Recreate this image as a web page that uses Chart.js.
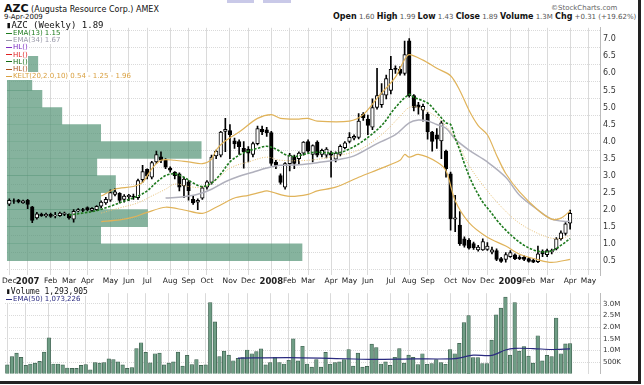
<!DOCTYPE html>
<html>
<head>
<meta charset="utf-8">
<script src="https://cdn.jsdelivr.net/npm/chart.js@4/dist/chart.umd.min.js"></script>
<style>
  body { margin:0; background:#fff; font-family:"DejaVu Sans", Verdana, sans-serif; }
  #wrap { position:relative; width:638px; height:381px; overflow:hidden; background:#fff;
          border-right:3px solid #222; border-bottom:3px solid #222; }
  .tab { position:absolute; top:0; height:3px; background:#c9c9e8; }
  #title { position:absolute; left:4px; top:2px; font-size:8px; color:#111; white-space:nowrap; }
  #title b { font-size:11px; }
  #date { position:absolute; left:4px; top:13px; font-size:7px; color:#111; }
  #brand { position:absolute; left:551px; top:4px; font-size:7px; color:#666; }
  #quote { position:absolute; left:333px; top:12px; font-size:7px; color:#555; white-space:nowrap; }
  #quote b { font-size:8px; color:#111; }
  #quote .up { color:#2a9a2a; font-size:6px; }
  .cv { position:absolute; left:0; }
  .leg { position:absolute; left:6px; font-size:7px; white-space:nowrap; line-height:7.2px; }
  .leg div span { background:#fff; }
  .leg .main { font-family:"DejaVu Sans Mono", monospace; font-size:9px; line-height:9px; color:#111; }
  .ln { display:inline-block; width:6px; height:0; border-top:1.5px solid; vertical-align:middle; margin-right:1px; }
</style>
</head>
<body>
<div id="wrap">
  <div class="tab" style="left:227px;width:27px"></div>
  <div class="tab" style="left:263px;width:28px"></div>
  <div id="title"><b>AZC</b> (Augusta Resource Corp.) AMEX</div>
  <div id="date">9-Apr-2009</div>
  <div id="brand">©StockCharts.com</div>
  <div id="quote"><b>Open</b> 1.60 <b>High</b> 1.99 <b>Low</b> 1.43 <b>Close</b> 1.89 <b>Volume</b> 1.3M <b>Chg</b> +0.31 (+19.62%) <span class="up">▲</span></div>

  <div class="cv" style="top:20px"><canvas id="price" width="632" height="268"></canvas></div>
  <div class="cv" style="top:286px"><canvas id="vol" width="632" height="95"></canvas></div>

  <div class="leg" style="top:21px">
    <div class="main"><span>▮AZC (Weekly) 1.89</span></div>
    <div style="color:#1d7a1d"><span><i class="ln" style="border-top-style:dashed"></i>EMA(13) 1.15</span></div>
    <div style="color:#9a9aaa"><span><i class="ln"></i>EMA(34) 1.67</span></div>
    <div style="color:#7a2ac0"><span><i class="ln"></i>HL()</span></div>
    <div style="color:#e02020"><span><i class="ln"></i>HL()</span></div>
    <div style="color:#106a10"><span><i class="ln"></i>HL()</span></div>
    <div style="color:#a8501a"><span><i class="ln"></i>HL()</span></div>
    <div style="color:#d9a040"><span><i class="ln"></i>KELT(20,2.0,10) 0.54 - 1.25 - 1.96</span></div>
  </div>
  <div class="leg" style="top:288px">
    <div class="main" style="font-size:8px;line-height:8px"><span>▮Volume 1,293,905</span></div>
    <div style="color:#2b2b80"><span><i class="ln"></i>EMA(50) 1,073,226</span></div>
  </div>
</div>

<script>
// weeks on the axis: Dec 4 2006 onward, axis runs a few weeks past the last bar
const firstWeek = Date.UTC(2006, 11, 4);
const weekCount = 129;
const monthNames = ['Jan','Feb','Mar','Apr','May','Jun','Jul','Aug','Sep','Oct','Nov','Dec'];

// weekly candles (123 weeks, last one = week of Apr 6 2009)
const opens = [2.16,2.26,2.28,2.20,2.27,2.08,1.76,1.87,1.82,1.86,1.82,1.82,1.86,1.86,1.72,1.96,2.00,2.06,1.98,2.00,
  2.10,2.20,2.28,2.45,2.48,2.30,2.38,2.40,2.35,2.88,3.18,2.95,3.40,3.55,3.45,3.22,3.10,3.05,2.70,2.82,
  2.30,2.22,2.34,2.66,2.80,3.58,3.60,4.30,4.32,4.02,4.00,3.80,3.78,3.62,3.94,4.36,4.34,4.26,3.40,3.00,
  2.66,3.35,3.55,3.50,3.66,4.00,3.62,3.98,3.62,3.60,3.66,3.48,3.62,3.82,4.00,4.10,4.12,4.80,4.66,4.42,
  5.00,5.08,5.36,5.50,6.15,6.12,6.00,6.96,5.35,5.08,4.92,4.80,4.28,4.20,4.02,3.72,3.05,1.72,1.55,1.14,
  1.10,1.00,0.82,0.82,0.83,0.75,0.80,0.56,0.54,0.62,0.67,0.60,0.61,0.56,0.52,0.47,0.78,0.68,0.76,0.85,
  1.15,1.30,1.60];
const highs = [2.32,2.32,2.30,2.28,2.30,2.10,1.92,1.90,1.90,1.90,1.92,1.93,1.93,1.88,2.00,2.03,2.04,2.08,2.06,2.12,
  2.26,2.36,2.58,2.62,2.50,2.44,2.45,2.46,2.90,3.30,3.20,3.42,3.72,3.70,3.50,3.26,3.12,3.08,2.95,2.85,
  2.40,2.32,2.68,2.85,3.60,3.75,4.30,4.68,4.50,4.10,4.05,4.00,3.85,3.98,4.45,4.45,4.42,4.30,3.45,3.05,
  3.38,3.65,3.60,3.70,4.00,4.05,3.90,4.02,3.78,3.82,3.72,3.70,3.90,4.00,4.26,4.20,4.82,4.85,4.78,5.25,
  6.15,5.70,5.95,6.50,6.22,6.20,6.95,7.02,5.38,5.15,5.10,4.85,4.30,4.38,4.60,3.75,3.10,2.42,1.94,1.20,
  1.15,1.05,0.95,1.14,1.03,0.90,0.85,0.60,0.74,0.80,0.70,0.65,0.64,0.60,0.55,0.93,0.82,0.84,0.84,1.18,
  1.38,1.62,1.99];
const lows = [2.12,2.18,2.20,2.18,2.03,1.62,1.72,1.80,1.78,1.77,1.76,1.80,1.82,1.72,1.63,1.93,1.94,1.96,1.95,1.98,
  2.05,2.15,2.24,2.40,2.20,2.22,2.26,2.30,2.30,2.80,2.90,2.90,3.35,3.38,3.20,3.10,2.90,2.55,2.35,2.28,
  2.15,2.00,2.30,2.60,2.75,3.50,3.55,3.70,3.50,3.80,3.62,3.22,3.40,3.55,3.90,4.20,4.15,3.30,3.20,2.75,
  2.60,3.14,3.20,3.32,3.60,3.68,3.40,3.55,3.55,3.52,2.95,3.40,3.58,3.78,3.96,4.05,4.08,4.62,4.20,4.35,
  4.95,5.00,5.25,5.40,6.00,5.95,5.95,5.30,4.90,4.80,4.60,4.07,3.72,3.80,3.50,2.95,1.40,1.35,0.95,0.90,
  0.84,0.83,0.78,0.80,0.80,0.70,0.50,0.45,0.46,0.60,0.53,0.53,0.50,0.46,0.44,0.44,0.62,0.62,0.70,0.82,
  1.10,1.25,1.43];
const closes = [2.27,2.25,2.23,2.26,2.15,1.68,1.88,1.82,1.86,1.80,1.84,1.90,1.90,1.76,1.95,2.00,1.98,1.99,2.04,2.10,
  2.22,2.30,2.50,2.52,2.27,2.40,2.42,2.38,2.85,3.12,2.98,3.38,3.62,3.45,3.25,3.16,3.00,2.66,2.90,2.56,
  2.20,2.27,2.64,2.82,3.54,3.72,4.28,4.36,4.20,3.93,3.85,3.70,3.66,3.94,4.38,4.28,4.26,3.36,3.30,2.80,
  3.35,3.60,3.36,3.66,3.98,3.72,3.88,3.60,3.74,3.78,3.60,3.66,3.86,3.96,4.12,4.15,4.60,4.70,4.47,5.00,
  5.35,5.40,5.85,6.12,6.12,6.00,6.55,5.35,5.00,5.00,5.03,4.28,4.00,4.07,4.55,3.20,1.73,1.76,1.00,0.95,
  0.87,0.88,0.90,1.06,0.93,0.82,0.54,0.48,0.68,0.74,0.56,0.56,0.54,0.48,0.46,0.70,0.70,0.80,0.80,1.14,
  1.32,1.58,1.89];

// weekly volume, millions of shares
const volumes = [0.38,0.74,0.89,0.70,0.36,0.42,0.46,0.53,0.93,1.54,0.42,0.42,0.38,0.25,0.23,0.23,0.36,0.39,0.17,0.48,
  0.46,0.48,0.64,0.61,0.51,0.38,0.23,0.27,1.08,1.33,0.92,0.47,0.86,0.89,0.38,0.46,0.51,0.93,0.33,0.79,
  0.39,0.61,0.36,0.38,3.05,2.22,0.74,0.97,0.80,0.56,0.66,0.69,1.02,0.86,0.95,1.07,0.38,0.48,0.71,0.48,
  0.42,0.58,1.50,0.55,1.18,0.42,0.29,0.61,0.29,0.92,0.41,0.48,0.51,0.61,1.04,0.33,0.89,0.29,0.32,1.27,
  1.12,0.42,0.51,0.36,0.71,1.08,0.46,0.80,0.70,0.39,0.86,0.41,0.44,0.61,0.48,0.41,1.04,0.86,1.30,2.19,
  2.49,0.69,0.69,0.44,0.44,1.44,2.52,2.81,3.28,0.80,3.05,0.97,1.17,0.76,0.46,1.63,0.55,0.79,0.74,2.39,
  0.86,1.28,1.29];

// overlays at sample weeks
const ema13Weeks  = [13,16,19,22,25,28,30,32,34,36,38,40,42,44,46,48,50,52,54,56,58,60,62,64,66,68,70,72,74,77,
  81,84,87,88,91,93,95,96,97,98,99,100,101,102,103,104,105,106,108,110,112,114,116,118,120,122];
const ema13Values = [1.84,1.90,1.97,2.10,2.25,2.40,2.55,2.80,3.00,3.05,2.95,2.78,2.68,2.78,3.05,3.40,3.60,3.72,3.80,3.86,
  3.78,3.62,3.56,3.62,3.68,3.68,3.66,3.68,3.78,4.02,4.47,5.00,5.38,5.30,5.13,4.85,4.55,4.50,4.10,3.75,3.35,3.00,2.70,2.45,2.22,2.05,1.88,1.70,1.40,1.15,0.95,0.82,0.76,0.79,0.95,1.15];
const ema34Weeks  = [34,38,41,44,47,50,53,56,59,63,67,72,75,80,84,87,89,91,93,95,97,100,104,108,111,115,118,121,122];
const ema34Values = [2.34,2.38,2.45,2.60,2.82,2.98,3.10,3.22,3.30,3.32,3.38,3.48,3.58,3.94,4.20,4.55,4.63,4.60,4.50,4.39,
  4.07,3.75,3.40,2.95,2.42,1.99,1.72,1.65,1.67];
const keltUpWeeks  = [20,23,27,29,31,33,36,39,42,44,45,47,50,54,57,59,63,65,67,74,77,80,84,86,87,90,93,96,98,100,
  102,104,106,108,111,115,118,120,122];
const keltUpValues = [2.40,2.60,2.68,2.80,3.20,3.45,3.45,3.40,3.35,3.48,3.75,4.02,4.28,4.68,4.79,4.68,4.66,4.68,4.60,4.60,
  4.79,5.27,5.89,6.41,6.55,6.39,6.15,5.93,5.50,4.92,4.47,4.20,3.60,3.06,2.52,1.99,1.72,1.75,1.96];
const keltMidWeeks  = [20,24,28,31,34,36,39,42,45,48,52,56,59,65,70,76,81,85,87,89,93,95,97,100,104,108,111,115,118,120,122];
const keltMidValues = [1.90,2.05,2.20,2.40,2.60,2.75,2.68,2.66,2.87,3.22,3.40,3.54,3.45,3.45,3.55,3.75,4.20,4.74,5.00,5.00,
  4.72,4.45,4.10,3.30,2.55,1.95,1.60,1.30,1.16,1.15,1.25];
const keltLowWeeks  = [20,24,27,30,34,38,42,45,49,52,56,57,61,65,67,71,76,81,85,86,87,89,93,95,97,100,104,108,111,115,118,122];
const keltLowValues = [1.65,1.70,1.78,1.92,2.07,1.99,1.89,2.07,2.34,2.42,2.55,2.52,2.39,2.45,2.55,2.66,2.95,3.22,3.45,3.62,
  3.54,3.62,3.40,3.14,2.26,1.62,1.19,0.93,0.69,0.53,0.45,0.54];
const volEmaWeeks  = [50,61,70,79,88,97,101,105,108,110,114,118,122];
const volEmaValues = [0.67,0.69,0.66,0.62,0.64,0.65,0.80,0.79,1.02,1.09,1.08,1.04,1.07];

// volume by price: bins of 0.5, share of the widest bin
const vbpBinLow = [0.5,1.0,1.5,2.0,2.5,3.0,3.5,4.0,4.5,5.0,5.5,6.0];
const vbpShare  = [99.5,31.6,47.4,31.6,36.6,30.3,65.5,31.6,18.5,11.8,8.4,10.4];

const priceTicks  = [0.5,1.0,1.5,2.0,2.5,3.0,3.5,4.0,4.5,5.0,5.5,6.0,6.5,7.0];
const volumeTicks = [500000,1000000,1500000,2000000,2500000,3000000];

// ---- build labels
const weeks = [];
for (let i = 0; i < weekCount; i++) {
  weeks.push(new Date(firstWeek + i * 7 * 86400000).toISOString().slice(0, 10));
}
const isMonthStart = i => i === 0 || weeks[i].slice(5, 7) !== weeks[i - 1].slice(5, 7);
const isYearStart = i => isMonthStart(i) && weeks[i].slice(5, 7) === '01';
const monthLabel = i => {
  if (!isMonthStart(i)) return '';
  const m = +weeks[i].slice(5, 7);
  return m === 1 ? weeks[i].slice(0, 4) : monthNames[m - 1];
};
const pts = (wk, vals, k = 1) => wk.map((w, j) => ({ x: weeks[w], y: vals[j] * k }));

const gridCol = '#dadada';
const tickFont = { family: 'DejaVu Sans', size: 8 };

const monthAxis = (showLabels) => ({
  type: 'category',
  offset: true,
  grid: { color: gridCol, offset: false, drawTicks: false },
  border: { display: false },
  afterBuildTicks: s => { s.ticks = s.ticks.filter(t => isMonthStart(t.value)); },
  ticks: {
    display: showLabels, autoSkip: false, maxRotation: 0, padding: 2, color: '#222',
    callback: v => monthLabel(v),
    font: ctx => ({ family: 'DejaVu Sans', size: ctx.tick && isYearStart(ctx.tick.value) ? 8.5 : 7.5,
                    weight: ctx.tick && isYearStart(ctx.tick.value) ? 'bold' : 'normal' })
  },
  afterFit: s => { s.height = showLabels ? 13 : 0; }
});

// ---- price panel
new Chart(document.getElementById('price'), {
  type: 'bar',
  data: {
    labels: weeks,
    datasets: [
      { type: 'line', data: pts(ema13Weeks, ema13Values), borderColor: '#1d7a1d', borderWidth: 1.6,
        borderDash: [2.5, 1.5], pointRadius: 0, tension: 0.35, order: -3 },
      { type: 'line', data: pts(ema34Weeks, ema34Values), borderColor: '#b0b0bc', borderWidth: 1.5,
        pointRadius: 0, tension: 0.35, order: -1 },
      { type: 'line', data: pts(keltUpWeeks, keltUpValues), borderColor: '#e0b35a', borderWidth: 1.2,
        pointRadius: 0, tension: 0.3, order: -2 },
      { type: 'line', data: pts(keltMidWeeks, keltMidValues), borderColor: '#e6bf74', borderWidth: 1,
        borderDash: [1, 1.5], pointRadius: 0, tension: 0.35, order: -2 },
      { type: 'line', data: pts(keltLowWeeks, keltLowValues), borderColor: '#e0b35a', borderWidth: 1.2,
        pointRadius: 0, tension: 0.3, order: -2 },
      { data: opens.map((o, i) => [lows[i], highs[i]]), backgroundColor: '#000',
        barThickness: 1, grouped: false, order: 2 },
      { data: opens.map((o, i) => [o, closes[i]]),
        backgroundColor: opens.map((o, i) => closes[i] >= o ? '#fff' : '#000'),
        borderColor: '#000', borderWidth: 1, borderSkipped: false,
        barThickness: 3.6, grouped: false, order: 1 },
      // volume-by-price, horizontal bars against the price axis
      { indexAxis: 'y', xAxisID: 'xv', yAxisID: 'y',
        data: vbpBinLow.map((p, k) => ({ y: p + 0.25, x: vbpShare[k] })),
        backgroundColor: 'rgba(88,150,120,0.72)', barThickness: 17, grouped: false, order: 10 }
    ]
  },
  options: {
    responsive: false, animation: false, events: [],
    layout: { padding: { left: 5, top: 2, right: 0, bottom: 0 } },
    plugins: { legend: { display: false }, tooltip: { enabled: false } },
    scales: {
      x: monthAxis(true),
      y: {
        type: 'linear', position: 'right', min: 0.34, max: 7.08,
        afterBuildTicks: s => { s.ticks = priceTicks.map(v => ({ value: v })); },
        afterFit: s => { s.width = 32; },
        grid: { color: gridCol, drawTicks: false },
        border: { color: '#bbb', dash: [1, 1] },
        ticks: { font: tickFont, color: '#333', padding: 3, callback: v => v.toFixed(1) }
      },
      xv: {
        type: 'linear', position: 'bottom', min: 0, max: 200, offset: false,
        grid: { display: false }, border: { display: false },
        ticks: { display: false },
        afterFit: s => { s.height = 0; }
      }
    }
  }
});

// ---- volume panel
new Chart(document.getElementById('vol'), {
  type: 'bar',
  data: {
    labels: weeks,
    datasets: [
      { type: 'line', data: pts(volEmaWeeks, volEmaValues, 1e6), borderColor: '#2b2b80', borderWidth: 1.2,
        pointRadius: 0, tension: 0.3, order: -1 },
      { data: volumes.map(v => v * 1e6), backgroundColor: '#6f9d85', borderColor: '#3b5c4b',
        borderWidth: 0.7, borderSkipped: 'start', barThickness: 3.6, order: 1 }
    ]
  },
  options: {
    responsive: false, animation: false, events: [],
    layout: { padding: { left: 5, top: 3, right: 0, bottom: 2 } },
    plugins: { legend: { display: false }, tooltip: { enabled: false } },
    scales: {
      x: monthAxis(false),
      y: {
        type: 'linear', position: 'right', min: 0, max: 3450000,
        afterBuildTicks: s => { s.ticks = volumeTicks.map(v => ({ value: v })); },
        afterFit: s => { s.width = 32; },
        grid: { color: gridCol, drawTicks: false },
        border: { color: '#bbb', dash: [1, 1] },
        ticks: { font: { family: 'DejaVu Sans', size: 7 }, color: '#333', padding: 3,
                 callback: v => v >= 1e6 ? (v / 1e6).toFixed(1) + 'M' : (v / 1e3) + 'K' }
      }
    }
  }
});
</script>
</body>
</html>
